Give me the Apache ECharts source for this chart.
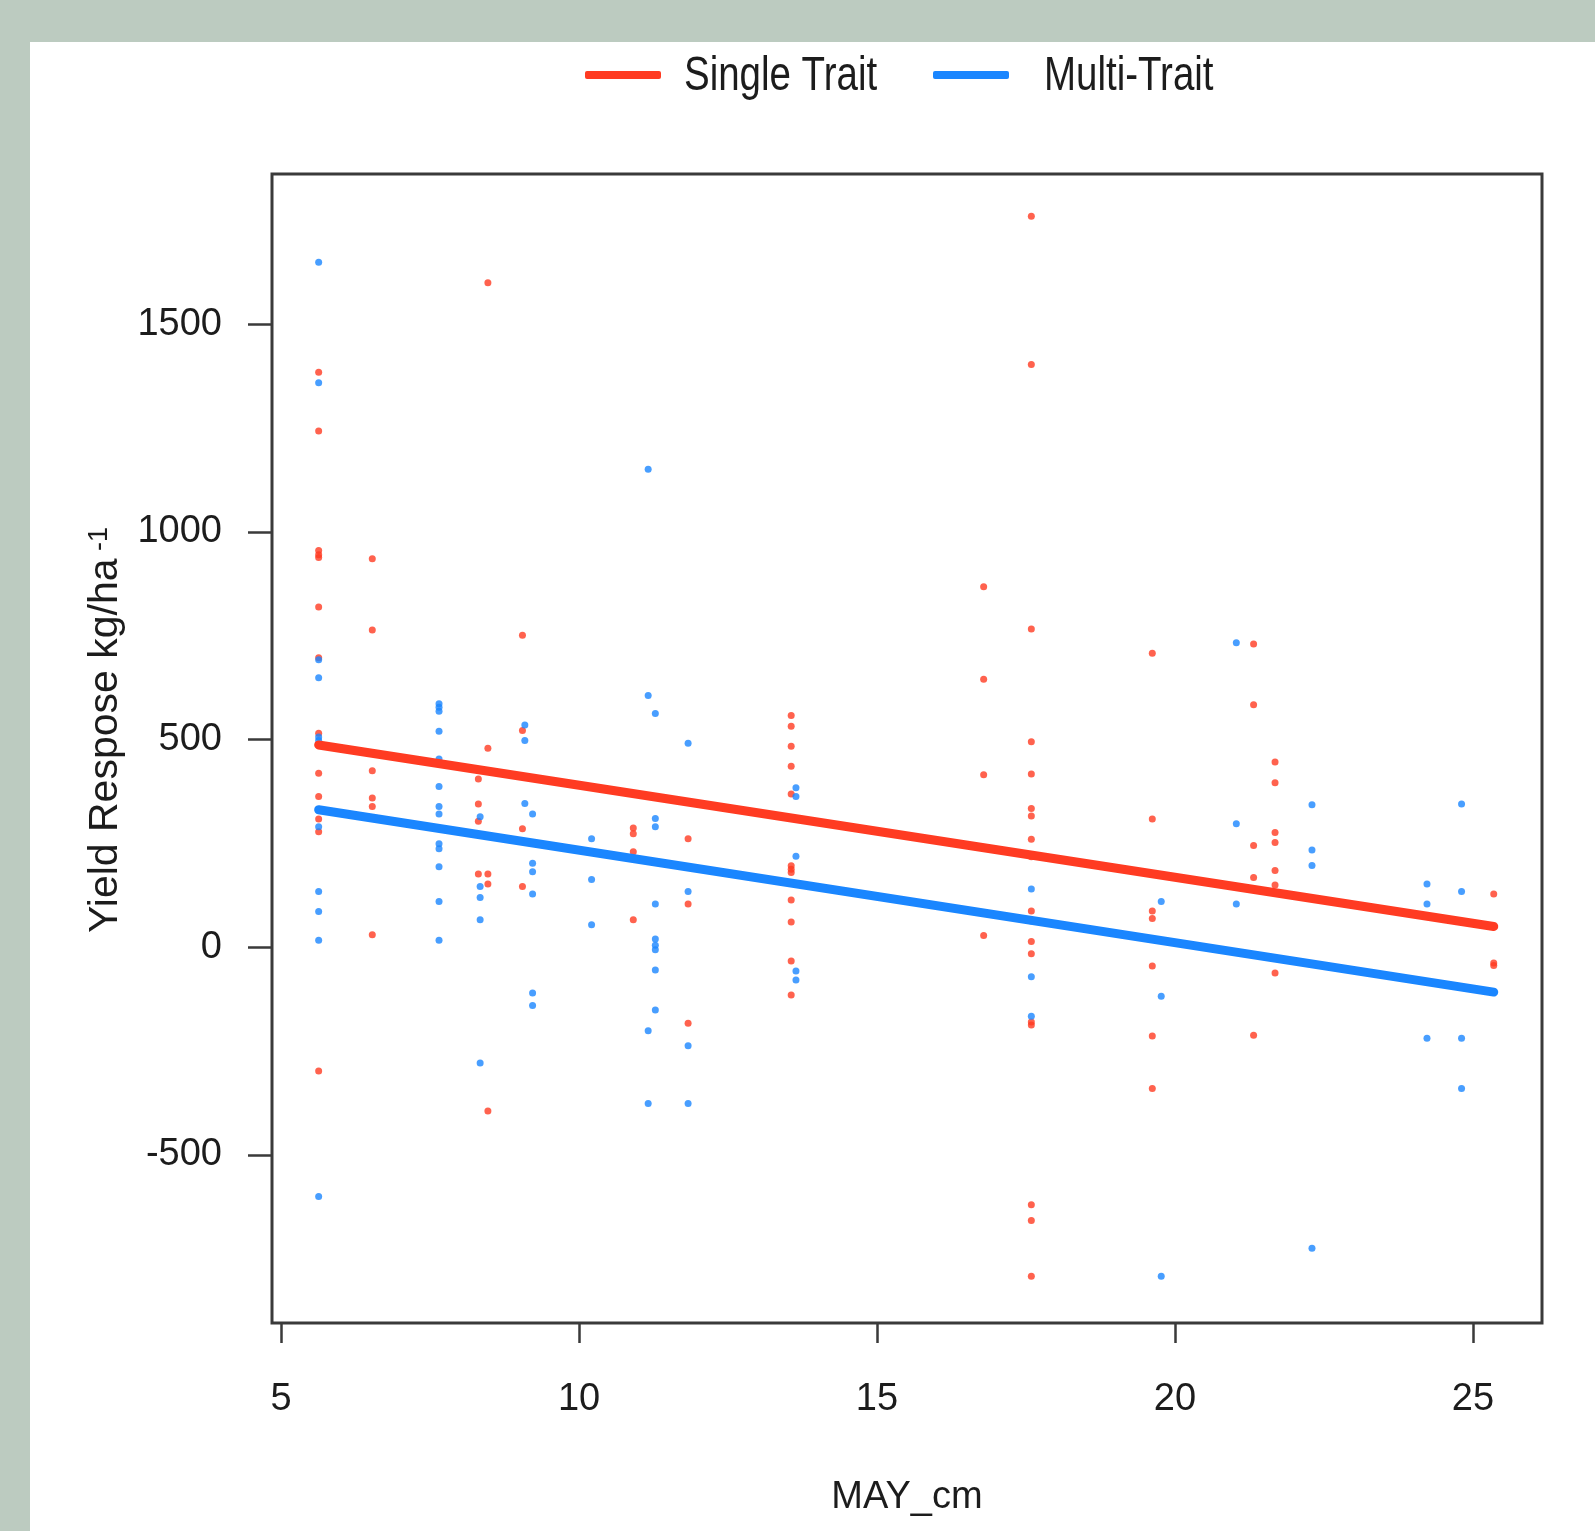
<!DOCTYPE html>
<html>
<head>
<meta charset="utf-8">
<script src="https://cdn.jsdelivr.net/npm/echarts@6/dist/echarts.min.js"></script>
<style>
  html, body { margin: 0; padding: 0; }
  #chart { width: 1595px; height: 1531px; }
</style>
</head>
<body>
<div id="chart"></div>
<script>
// values: x columns (MAY_cm) and the y values stacked on each
const singleCols = [5.63, 6.53, 8.31, 8.47, 9.05, 10.91, 11.83, 13.56, 16.79, 17.59, 19.62, 21.32, 21.68, 25.35]
const singleVals = [
  [1384, 1243, 955, 945, 938, 819, 697, 515, 419, 363, 309, 278, -298],
  [935, 764, 425, 359, 339, 30],
  [405, 345, 303, 176],
  [1600, 479, 176, 152, -394],
  [751, 522, 285, 146],
  [287, 273, 230, 66],
  [261, 104, -183],
  [558, 532, 484, 436, 369, 196, 188, 180, 114, 61, -33, -115],
  [868, 645, 415, 28],
  [1760, 1403, 766, 495, 417, 334, 316, 260, 218, 87, 14, -16, -180, -187, -620, -658, -792],
  [708, 309, 176, 87, 69, -45, -214, -340],
  [730, 584, 245, 168, -212],
  [446, 396, 276, 252, 185, 150, -62],
  [128, -38, -44]
]

const multiCols = [5.63, 7.65, 8.34, 9.09, 9.22, 10.21, 11.16, 11.28, 11.83, 13.64, 17.59, 19.77, 21.03, 22.3, 24.23, 24.81]
const multiVals = [
  [1649, 1359, 692, 649, 506, 498, 290, 134, 86, 17, -600],
  [586, 578, 568, 520, 453, 387, 339, 321, 249, 237, 194, 110, 17],
  [314, 146, 120, 66, -279],
  [535, 498, 346],
  [321, 202, 182, 128, -110, -140],
  [261, 163, 54],
  [1151, 606, -201, -376],
  [563, 310, 290, 104, 20, 5, -6, -55, -151],
  [491, 134, -237, -376],
  [384, 363, 219, -57, -79],
  [140, 63, -71, -166],
  [110, -118, -792],
  [733, 297, 104],
  [343, 234, 197, -725],
  [152, 104, -219],
  [345, 134, -219, -340]
]

// fitted lines (ends)
const fitX = [5.63, 25.35]
const singleFit = [487, 50]
const multiFit = [331, -108]

const xTicks = [5, 10, 15, 20, 25]
const yTicks = [-500, 0, 500, 1000, 1500]

const RED = '#FF3B22'
const BLUE = '#1A86FF'
const INK = '#1c1c1c'
const FONT = '"Liberation Sans", Arial, sans-serif'

const flatten = (cols, vals) => {
  const out = []
  cols.forEach((x, i) => vals[i].forEach(v => out.push([x, v])))
  return out
}
const pair = (xs, ys) => xs.map((x, i) => [x, ys[i]])

const chart = echarts.init(document.getElementById('chart'))

// legend keys only; the labels are narrow text drawn next to them (no narrow font installed)
const legendBase = {
  orient: 'horizontal',
  itemWidth: 76,
  itemHeight: 8,
  top: 71,
  padding: 0,
  selectedMode: false,
  formatter: () => '',
  textStyle: { fontSize: 1 }
}

const legendLabel = (text, x) => ({
  type: 'text',
  x: x,
  y: 76,
  scaleX: 0.785,
  style: {
    text: text,
    fontSize: 49,
    fontFamily: FONT,
    fill: INK,
    align: 'left',
    verticalAlign: 'middle'
  }
})

const option = {
  backgroundColor: '#BCCBC0',
  animation: false,
  graphic: [
    {
      type: 'rect',
      left: 30,
      top: 42,
      z: -10,
      shape: { width: 1565, height: 1489 },
      style: { fill: '#ffffff' }
    },
    legendLabel('Single Trait', 684),
    legendLabel('Multi-Trait', 1044)
  ],
  legend: [
    Object.assign({}, legendBase, {
      left: 585,
      data: [{ name: 'Single Trait', icon: 'roundRect' }]
    }),
    Object.assign({}, legendBase, {
      left: 933,
      data: [{ name: 'Multi-Trait', icon: 'roundRect' }]
    })
  ],
  grid: {
    left: 272,
    top: 174,
    width: 1270,
    height: 1149,
    show: true,
    backgroundColor: '#ffffff',
    borderColor: '#3a3a3a',
    borderWidth: 3
  },
  xAxis: {
    type: 'value',
    min: 4.847,
    max: 26.16,
    splitLine: { show: false },
    axisLine: { show: false, onZero: false },
    axisTick: {
      show: true,
      customValues: xTicks,
      length: 20,
      lineStyle: { color: '#3a3a3a', width: 2.5 }
    },
    axisLabel: {
      customValues: xTicks,
      margin: 58,
      fontSize: 38,
      fontFamily: FONT,
      color: INK,
      formatter: v => String(v)
    },
    name: 'MAY_cm',
    nameLocation: 'middle',
    nameGap: 156,
    nameTextStyle: {
      fontSize: 38,
      fontFamily: FONT,
      color: INK
    }
  },
  yAxis: {
    type: 'value',
    min: -904.7,
    max: 1861.6,
    splitLine: { show: false },
    axisLine: { show: false, onZero: false },
    axisTick: {
      show: true,
      customValues: yTicks,
      length: 24,
      lineStyle: { color: '#3a3a3a', width: 2.5 }
    },
    axisLabel: {
      customValues: yTicks,
      margin: 50,
      fontSize: 38,
      fontFamily: FONT,
      color: INK,
      formatter: v => String(v)
    },
    name: '{a|Yield Respose kg/ha}{s| -1}',
    nameLocation: 'middle',
    nameRotate: 90,
    nameGap: 131,
    nameTextStyle: {
      color: INK,
      fontFamily: FONT,
      padding: [0, 0, 0, 37],
      rich: {
        a: { fontSize: 41, color: INK, fontFamily: FONT },
        s: { fontSize: 27, color: INK, verticalAlign: 'top', fontFamily: FONT }
      }
    }
  },
  series: [
    {
      name: 'Single Trait points',
      type: 'scatter',
      symbolSize: 7,
      itemStyle: { color: RED },
      data: flatten(singleCols, singleVals),
      z: 2
    },
    {
      name: 'Multi-Trait points',
      type: 'scatter',
      symbolSize: 7,
      itemStyle: { color: BLUE },
      data: flatten(multiCols, multiVals),
      z: 2
    },
    {
      name: 'Single Trait',
      type: 'line',
      showSymbol: false,
      symbol: 'none',
      color: RED,
      lineStyle: { color: RED, width: 9, cap: 'round' },
      data: pair(fitX, singleFit),
      z: 3
    },
    {
      name: 'Multi-Trait',
      type: 'line',
      showSymbol: false,
      symbol: 'none',
      color: BLUE,
      lineStyle: { color: BLUE, width: 9, cap: 'round' },
      data: pair(fitX, multiFit),
      z: 3
    }
  ]
}

chart.setOption(option)
</script>
</body>
</html>
